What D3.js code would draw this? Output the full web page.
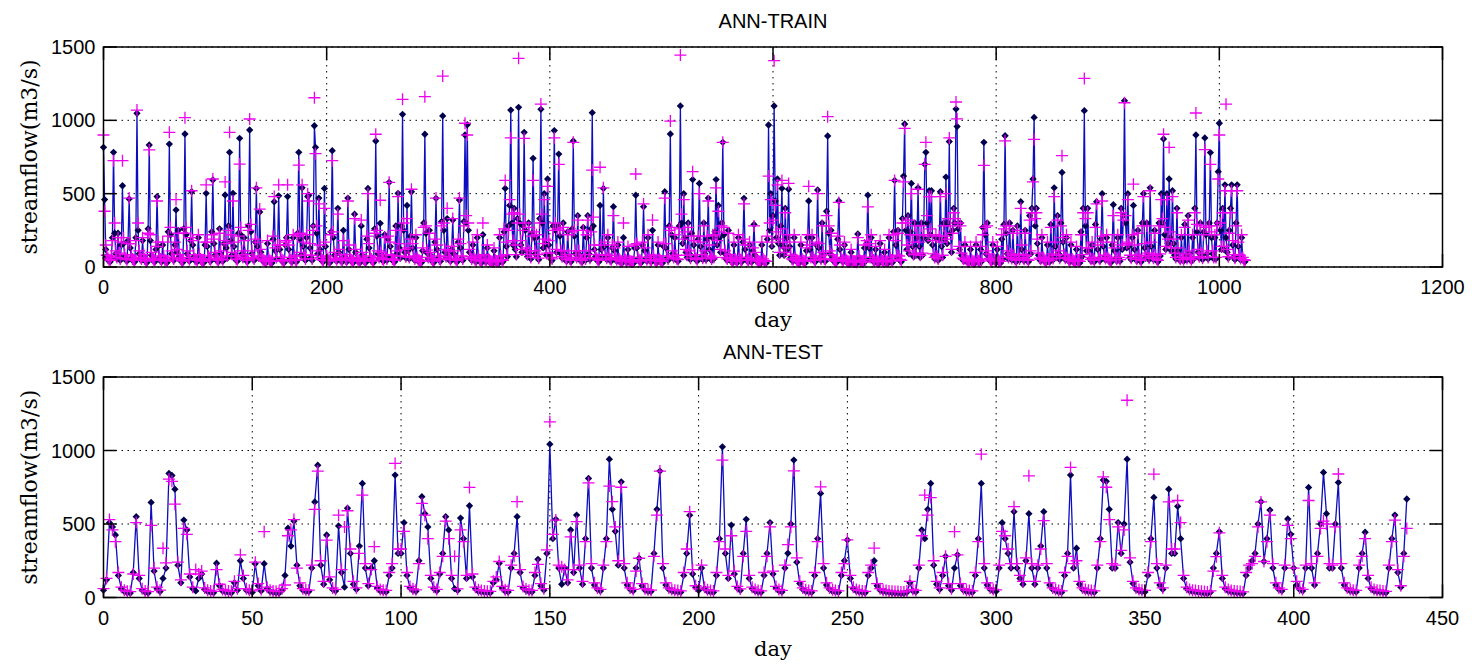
<!DOCTYPE html>
<html>
<head>
<meta charset="utf-8">
<script src="https://cdn.jsdelivr.net/npm/d3@7"></script>
<style>
  html, body { margin: 0; padding: 0; background: #fff; }
  svg { display: block; }
</style>
</head>
<body>
<div id="chart"></div>
<script>
const TRAIN_OBS = [
  816, 460, 120, 70, 50, 40, 35, 60, 200, 782, 230, 90, 55, 230, 80, 45, 150, 554, 160, 70,
  50, 40, 180, 464, 130, 60, 45, 40, 35, 200, 1048, 250, 90, 55, 45, 180, 70, 45, 35, 30,
  260, 832, 180, 80, 50, 40, 35, 120, 480, 140, 60, 45, 35, 150, 60, 40, 35, 30, 240, 838,
  220, 90, 55, 45, 150, 389, 100, 250, 70, 45, 35, 30, 260, 907, 220, 90, 55, 40, 180, 513,
  150, 70, 45, 40, 35, 200, 70, 45, 35, 30, 30, 150, 502, 140, 60, 45, 40, 240, 593, 160,
  80, 50, 40, 35, 260, 90, 50, 40, 160, 491, 130, 60, 280, 782, 180, 80, 502, 140, 60, 45,
  40, 230, 877, 220, 90, 55, 200, 70, 45, 35, 280, 934, 240, 90, 55, 45, 170, 536, 140, 60,
  375, 100, 50, 40, 35, 30, 30, 160, 50, 35, 30, 28, 190, 445, 110, 55, 130, 485, 120, 55,
  40, 35, 30, 150, 200, 480, 120, 55, 40, 35, 200, 60, 40, 35, 230, 782, 190, 80, 540, 140,
  65, 45, 200, 480, 490, 130, 65, 45, 280, 963, 816, 230, 90, 470, 120, 55, 40, 35, 536, 140,
  60, 45, 35, 30, 240, 793, 200, 80, 50, 40, 400, 100, 50, 40, 35, 250, 70, 45, 35, 470,
  120, 55, 40, 35, 30, 360, 100, 50, 40, 35, 30, 280, 80, 45, 35, 30, 190, 536, 130, 60,
  45, 35, 30, 260, 859, 210, 90, 55, 298, 80, 45, 40, 220, 70, 45, 190, 577, 140, 65, 45,
  40, 35, 280, 90, 502, 130, 60, 280, 1041, 250, 100, 60, 420, 110, 55, 210, 513, 130, 60, 45,
  200, 55, 40, 35, 30, 30, 110, 300, 905, 230, 95, 55, 250, 80, 45, 35, 30, 170, 468, 120,
  60, 45, 40, 310, 1030, 250, 100, 60, 330, 90, 50, 40, 120, 320, 90, 50, 40, 35, 170, 457,
  130, 60, 45, 310, 900, 300, 970, 250, 100, 60, 45, 150, 55, 40, 35, 200, 60, 40, 35, 30,
  220, 70, 40, 35, 130, 45, 35, 30, 28, 25, 110, 40, 30, 28, 25, 200, 60, 40, 35, 240,
  536, 140, 70, 280, 420, 1070, 300, 150, 400, 120, 70, 330, 1089, 300, 150, 100, 280, 918, 250, 110,
  70, 300, 90, 55, 230, 741, 200, 90, 200, 70, 50, 330, 1075, 300, 130, 500, 160, 80, 600, 150,
  80, 55, 45, 280, 930, 250, 100, 280, 770, 210, 90, 60, 300, 90, 50, 40, 240, 70, 45, 35,
  260, 859, 210, 90, 55, 350, 90, 50, 40, 35, 270, 70, 45, 200, 350, 90, 50, 260, 1052, 280,
  120, 70, 50, 40, 35, 420, 120, 70, 536, 140, 65, 50, 200, 65, 45, 40, 130, 411, 110, 55,
  40, 150, 45, 35, 30, 28, 200, 55, 40, 30, 120, 35, 30, 28, 25, 25, 130, 490, 130, 55,
  40, 35, 30, 150, 411, 110, 55, 40, 200, 55, 40, 35, 250, 65, 40, 35, 30, 150, 45, 35,
  30, 28, 140, 513, 130, 60, 45, 280, 907, 220, 90, 55, 200, 65, 45, 40, 280, 1098, 300, 160,
  500, 200, 100, 65, 300, 90, 50, 230, 596, 150, 70, 50, 40, 190, 570, 140, 70, 50, 300, 90,
  50, 190, 470, 120, 60, 45, 200, 55, 240, 596, 150, 420, 200, 100, 300, 850, 220, 90, 55, 45,
  250, 70, 45, 35, 30, 150, 45, 35, 30, 200, 55, 40, 35, 170, 468, 120, 55, 40, 35, 150,
  45, 35, 110, 290, 80, 45, 35, 30, 28, 25, 150, 45, 35, 30, 28, 190, 968, 250, 500, 140,
  350, 1098, 450, 200, 600, 160, 80, 280, 536, 140, 80, 400, 110, 200, 530, 140, 65, 45, 40, 200,
  55, 40, 35, 30, 30, 150, 45, 35, 30, 28, 110, 200, 450, 120, 55, 200, 55, 40, 35, 150,
  525, 130, 60, 45, 300, 80, 45, 40, 380, 893, 230, 90, 250, 70, 45, 35, 30, 30, 190, 450,
  120, 55, 40, 35, 150, 45, 35, 30, 28, 25, 100, 32, 28, 25, 24, 22, 225, 60, 35, 28,
  25, 24, 130, 40, 160, 490, 130, 55, 200, 55, 38, 30, 120, 35, 28, 25, 160, 45, 32, 28,
  100, 32, 28, 25, 200, 55, 38, 30, 240, 590, 150, 65, 250, 60, 42, 35, 330, 620, 975, 250,
  120, 350, 90, 240, 570, 140, 70, 300, 80, 200, 540, 140, 65, 300, 80, 200, 700, 782, 300, 180,
  520, 220, 520, 150, 75, 55, 200, 60, 45, 190, 513, 140, 65, 300, 190, 613, 160, 300, 855, 230,
  100, 250, 400, 300, 1077, 958, 260, 120, 300, 80, 50, 42, 150, 45, 35, 30, 28, 120, 38, 30,
  28, 25, 150, 45, 32, 28, 120, 38, 270, 850, 220, 90, 300, 75, 48, 38, 32, 150, 45, 35,
  30, 120, 38, 30, 28, 190, 55, 290, 895, 230, 90, 55, 300, 75, 48, 250, 65, 42, 35, 280,
  70, 45, 445, 120, 55, 42, 250, 65, 42, 35, 350, 90, 400, 600, 1020, 280, 400, 160, 80, 50,
  42, 200, 55, 40, 35, 30, 150, 45, 35, 290, 75, 48, 540, 140, 65, 350, 90, 50, 300, 645,
  170, 70, 50, 200, 55, 40, 35, 150, 45, 35, 30, 28, 120, 38, 30, 28, 240, 70, 400, 1066,
  280, 110, 400, 110, 55, 42, 150, 45, 35, 290, 445, 120, 55, 42, 190, 500, 140, 65, 48, 200,
  55, 42, 35, 32, 150, 425, 110, 55, 42, 200, 55, 40, 400, 120, 350, 1134, 300, 130, 500, 140,
  65, 50, 200, 420, 120, 55, 42, 250, 65, 42, 35, 300, 500, 130, 60, 300, 80, 50, 540, 140,
  65, 50, 250, 65, 42, 35, 300, 75, 500, 300, 873, 220, 120, 500, 160, 600, 200, 110, 520, 160,
  80, 55, 400, 110, 55, 42, 200, 55, 40, 290, 75, 48, 350, 90, 50, 40, 200, 55, 400, 900,
  240, 100, 60, 300, 80, 50, 240, 880, 220, 90, 55, 300, 780, 200, 90, 55, 200, 55, 300, 650,
  980, 250, 120, 400, 120, 560, 200, 100, 60, 250, 400, 560, 150, 70, 50, 300, 560, 140, 65, 48,
  200, 55, 40, 35
];

const TRAIN_PRED = [
  900, 380, 150, 80, 60, 50, 45, 75, 180, 725, 300, 110, 65, 200, 95, 55, 170, 725, 200, 85,
  60, 50, 160, 470, 160, 75, 55, 50, 45, 180, 1070, 300, 110, 65, 55, 200, 85, 55, 45, 40,
  230, 798, 220, 100, 60, 50, 45, 140, 450, 170, 75, 55, 45, 170, 75, 50, 45, 40, 210, 918,
  270, 110, 65, 55, 170, 460, 120, 230, 85, 55, 45, 40, 230, 1018, 270, 110, 65, 50, 200, 520,
  180, 85, 55, 50, 45, 220, 85, 55, 45, 40, 40, 170, 560, 170, 75, 55, 50, 220, 600, 190,
  100, 60, 50, 45, 230, 110, 60, 50, 180, 580, 160, 75, 250, 918, 220, 100, 450, 170, 75, 55,
  50, 210, 702, 270, 110, 65, 180, 85, 55, 45, 250, 1009, 290, 110, 65, 55, 190, 540, 170, 75,
  395, 120, 60, 50, 45, 40, 40, 180, 60, 45, 40, 38, 210, 480, 130, 65, 150, 560, 150, 65,
  50, 45, 40, 170, 180, 560, 150, 65, 50, 45, 220, 75, 50, 45, 210, 695, 230, 100, 560, 170,
  80, 55, 220, 500, 450, 160, 80, 55, 250, 1154, 773, 280, 110, 430, 150, 65, 50, 45, 400, 170,
  75, 55, 45, 40, 220, 725, 240, 100, 60, 50, 360, 120, 60, 50, 45, 180, 85, 55, 45, 450,
  150, 65, 50, 45, 40, 330, 120, 60, 50, 45, 40, 320, 100, 55, 45, 40, 210, 500, 160, 75,
  55, 45, 40, 230, 905, 250, 110, 65, 455, 100, 55, 50, 200, 85, 55, 210, 577, 170, 80, 55,
  50, 45, 250, 110, 480, 160, 75, 250, 1143, 300, 120, 70, 330, 130, 65, 190, 530, 160, 75, 55,
  220, 65, 50, 45, 40, 40, 130, 270, 1161, 280, 115, 65, 230, 100, 55, 45, 40, 190, 470, 150,
  75, 55, 50, 280, 1302, 300, 120, 70, 400, 110, 60, 50, 140, 330, 110, 60, 50, 45, 190, 470,
  160, 75, 55, 280, 980, 350, 900, 300, 120, 70, 55, 170, 65, 50, 45, 220, 75, 50, 45, 40,
  300, 85, 50, 45, 150, 55, 45, 40, 38, 35, 130, 50, 40, 38, 35, 220, 75, 50, 45, 260,
  590, 170, 85, 250, 460, 880, 360, 180, 370, 150, 85, 300, 1423, 360, 180, 120, 250, 877, 300, 130,
  85, 270, 110, 65, 210, 590, 240, 110, 220, 85, 60, 300, 1111, 360, 160, 460, 190, 95, 550, 180,
  95, 65, 55, 250, 880, 300, 120, 260, 700, 250, 110, 70, 270, 110, 60, 50, 220, 85, 55, 45,
  240, 850, 250, 110, 65, 320, 110, 60, 50, 45, 250, 85, 55, 220, 320, 110, 60, 240, 661, 340,
  150, 85, 60, 50, 45, 680, 150, 85, 540, 170, 80, 60, 220, 80, 55, 50, 150, 350, 130, 65,
  50, 170, 55, 45, 40, 38, 300, 65, 50, 40, 140, 45, 40, 38, 35, 35, 150, 634, 160, 65,
  50, 45, 40, 170, 430, 130, 65, 50, 220, 65, 50, 45, 320, 80, 50, 45, 40, 170, 55, 45,
  40, 38, 160, 470, 160, 75, 55, 250, 995, 270, 110, 65, 220, 80, 55, 50, 260, 1445, 360, 190,
  460, 240, 120, 80, 270, 110, 60, 210, 650, 180, 85, 60, 50, 210, 500, 170, 85, 60, 280, 110,
  60, 210, 450, 150, 75, 55, 220, 65, 220, 540, 180, 380, 240, 120, 280, 850, 270, 110, 65, 55,
  230, 85, 55, 45, 40, 170, 55, 45, 40, 220, 65, 50, 45, 190, 430, 150, 65, 50, 45, 170,
  55, 45, 130, 280, 100, 55, 45, 40, 38, 35, 170, 55, 45, 40, 38, 210, 620, 300, 460, 170,
  320, 1407, 420, 240, 560, 190, 100, 260, 590, 170, 100, 370, 130, 220, 570, 170, 80, 55, 50, 220,
  65, 50, 45, 40, 40, 170, 55, 45, 40, 38, 130, 220, 550, 150, 65, 220, 65, 50, 45, 170,
  500, 160, 75, 55, 280, 100, 55, 50, 350, 1025, 280, 110, 230, 85, 55, 45, 40, 40, 210, 440,
  150, 65, 50, 45, 170, 55, 45, 40, 38, 35, 120, 42, 38, 35, 34, 32, 200, 75, 45, 38,
  35, 34, 150, 50, 180, 410, 160, 65, 220, 65, 48, 40, 140, 45, 38, 35, 180, 55, 42, 38,
  120, 42, 38, 35, 220, 65, 48, 40, 220, 590, 180, 80, 230, 75, 52, 45, 300, 580, 945, 300,
  150, 320, 110, 220, 500, 170, 85, 280, 95, 220, 530, 170, 80, 280, 95, 220, 700, 850, 350, 210,
  480, 260, 480, 180, 90, 65, 220, 75, 55, 210, 480, 170, 80, 280, 210, 500, 190, 330, 880, 280,
  120, 230, 370, 330, 1125, 1010, 300, 140, 280, 95, 60, 52, 170, 55, 45, 40, 38, 140, 48, 40,
  38, 35, 170, 55, 42, 38, 140, 48, 220, 693, 270, 110, 280, 90, 58, 48, 42, 170, 55, 45,
  40, 140, 48, 40, 38, 220, 65, 260, 860, 280, 110, 65, 280, 90, 58, 230, 80, 52, 45, 250,
  85, 55, 400, 150, 65, 52, 230, 80, 52, 45, 320, 110, 370, 580, 870, 330, 370, 190, 95, 60,
  52, 220, 65, 50, 45, 40, 170, 55, 45, 270, 90, 58, 480, 170, 80, 320, 110, 60, 280, 759,
  200, 85, 60, 220, 65, 50, 45, 170, 55, 45, 40, 38, 140, 48, 40, 38, 220, 85, 370, 1286,
  330, 130, 370, 130, 65, 52, 170, 55, 45, 270, 430, 150, 65, 52, 210, 450, 170, 80, 58, 220,
  65, 52, 45, 42, 170, 350, 130, 65, 52, 220, 65, 50, 370, 150, 320, 1120, 350, 160, 460, 170,
  80, 60, 220, 565, 150, 65, 52, 230, 80, 52, 45, 280, 480, 160, 75, 280, 95, 60, 520, 170,
  80, 60, 230, 80, 52, 45, 280, 90, 460, 330, 905, 270, 140, 460, 190, 815, 240, 130, 480, 190,
  95, 65, 370, 130, 65, 52, 220, 65, 50, 270, 90, 58, 320, 110, 60, 50, 220, 65, 370, 1050,
  290, 120, 70, 280, 95, 60, 220, 800, 270, 110, 65, 280, 700, 240, 110, 65, 220, 65, 280, 600,
  900, 300, 140, 370, 140, 520, 1110, 120, 70, 230, 370, 520, 180, 85, 60, 280, 520, 170, 80, 58,
  220, 65, 50, 45
];

const TEST_OBS = [
  50, 120, 509, 480, 425, 150, 60, 40, 32, 30, 170, 550, 130, 50, 35, 30, 647, 180, 60, 40,
  130, 200, 844, 830, 737, 220, 100, 527, 460, 140, 60, 45, 130, 160, 55, 40, 35, 32, 233, 80,
  45, 38, 35, 32, 100, 50, 250, 130, 50, 40, 35, 230, 80, 45, 230, 60, 40, 35, 32, 30,
  50, 150, 471, 350, 520, 220, 80, 50, 42, 40, 200, 650, 900, 220, 90, 425, 120, 55, 45, 487,
  170, 70, 607, 300, 90, 55, 350, 776, 200, 80, 200, 250, 65, 45, 40, 38, 150, 200, 833, 300,
  300, 509, 150, 65, 48, 42, 250, 686, 570, 480, 130, 60, 45, 160, 300, 550, 460, 130, 60, 48,
  540, 400, 130, 624, 140, 60, 42, 38, 35, 33, 32, 100, 120, 233, 65, 42, 38, 200, 300, 550,
  170, 65, 48, 40, 38, 150, 260, 80, 50, 300, 1043, 400, 532, 200, 90, 200, 100, 460, 170, 561,
  200, 90, 400, 810, 200, 85, 55, 45, 200, 400, 941, 600, 450, 220, 787, 200, 85, 55, 45, 200,
  267, 80, 50, 42, 40, 300, 600, 860, 200, 85, 55, 45, 40, 38, 35, 150, 300, 560, 160, 70,
  48, 200, 60, 42, 38, 35, 150, 400, 1025, 300, 130, 493, 160, 65, 48, 300, 532, 130, 60, 45,
  38, 35, 150, 300, 510, 160, 65, 45, 38, 200, 301, 500, 935, 240, 95, 55, 42, 38, 35, 150,
  400, 708, 200, 85, 55, 42, 38, 35, 150, 250, 392, 130, 60, 45, 38, 35, 32, 150, 200, 250,
  80, 50, 40, 38, 35, 32, 30, 30, 28, 28, 35, 100, 45, 38, 200, 460, 400, 600, 776, 220,
  90, 55, 150, 280, 80, 50, 200, 290, 80, 50, 40, 38, 35, 150, 400, 776, 200, 85, 55, 45,
  42, 200, 509, 400, 300, 200, 584, 200, 130, 90, 250, 570, 200, 90, 200, 350, 584, 200, 85, 55,
  45, 38, 35, 150, 300, 833, 200, 335, 90, 55, 45, 40, 38, 35, 200, 400, 799, 790, 600, 200,
  200, 510, 300, 500, 941, 240, 95, 55, 45, 40, 38, 150, 400, 681, 200, 85, 55, 200, 737, 300,
  300, 620, 400, 130, 60, 45, 40, 38, 35, 32, 30, 28, 35, 200, 300, 448, 130, 60, 45, 38,
  35, 32, 30, 28, 150, 200, 250, 300, 500, 652, 245, 400, 595, 200, 85, 55, 45, 200, 534, 430,
  200, 85, 55, 45, 200, 749, 200, 85, 300, 500, 851, 570, 200, 200, 500, 783, 200, 85, 55, 45,
  40, 38, 200, 300, 444, 130, 60, 45, 40, 38, 35, 32, 200, 400, 561, 170, 70, 300, 670
];

const TEST_PRED = [
  60, 130, 530, 460, 380, 170, 70, 50, 42, 40, 160, 510, 150, 60, 45, 40, 490, 200, 70, 50,
  335, 235, 805, 790, 635, 240, 120, 470, 430, 160, 70, 190, 160, 180, 65, 50, 45, 42, 190, 90,
  55, 48, 45, 42, 110, 60, 290, 150, 60, 50, 45, 240, 95, 55, 448, 70, 50, 45, 42, 40,
  60, 85, 420, 460, 530, 200, 100, 60, 52, 50, 220, 600, 860, 250, 110, 390, 140, 65, 55, 560,
  190, 480, 590, 330, 110, 65, 300, 697, 230, 95, 190, 346, 75, 55, 50, 48, 170, 230, 912, 330,
  330, 450, 170, 75, 58, 52, 230, 640, 560, 400, 150, 70, 55, 170, 280, 520, 400, 150, 280, 58,
  460, 380, 150, 749, 160, 70, 52, 48, 45, 43, 42, 110, 140, 245, 75, 52, 48, 220, 280, 652,
  190, 75, 58, 50, 48, 170, 225, 95, 60, 324, 1195, 430, 527, 220, 210, 190, 120, 413, 190, 516,
  220, 110, 380, 780, 230, 100, 65, 55, 220, 380, 758, 652, 480, 250, 750, 230, 100, 65, 55, 180,
  267, 95, 60, 52, 50, 280, 560, 860, 230, 100, 65, 55, 50, 48, 45, 170, 330, 584, 190, 80,
  58, 220, 70, 52, 48, 45, 170, 380, 935, 330, 150, 420, 180, 75, 58, 280, 450, 150, 70, 55,
  48, 45, 170, 280, 480, 180, 75, 55, 48, 220, 360, 480, 862, 270, 110, 65, 52, 48, 45, 170,
  380, 753, 230, 100, 65, 52, 48, 45, 170, 230, 392, 150, 70, 55, 48, 45, 42, 170, 220, 336,
  95, 60, 50, 48, 45, 42, 40, 40, 38, 38, 45, 110, 55, 48, 220, 420, 697, 560, 680, 250,
  110, 65, 170, 280, 95, 60, 448, 290, 95, 60, 50, 48, 45, 170, 380, 975, 230, 100, 65, 55,
  52, 220, 450, 420, 330, 230, 618, 230, 150, 110, 270, 828, 230, 110, 220, 330, 523, 230, 100, 65,
  55, 48, 45, 170, 280, 885, 230, 250, 110, 65, 55, 50, 48, 45, 220, 380, 820, 750, 530, 230,
  220, 480, 320, 460, 1342, 270, 110, 65, 55, 50, 48, 170, 380, 839, 230, 100, 65, 220, 650, 330,
  330, 660, 510, 150, 70, 55, 50, 48, 45, 42, 40, 38, 45, 180, 278, 440, 150, 70, 55, 48,
  45, 42, 40, 38, 170, 220, 230, 280, 480, 650, 245, 380, 560, 230, 100, 65, 55, 220, 490, 400,
  200, 110, 65, 55, 220, 660, 230, 100, 280, 470, 520, 500, 230, 220, 480, 840, 230, 100, 65, 55,
  50, 48, 220, 280, 400, 150, 70, 55, 50, 48, 45, 42, 220, 380, 527, 190, 80, 280, 470
];

const Y_TICKS = [0, 500, 1000, 1500];
const TRAIN_X_TICKS = [0, 200, 400, 600, 800, 1000, 1200];
const TEST_X_TICKS = [0, 50, 100, 150, 200, 250, 300, 350, 400, 450];

const W = 1472, H = 664;
const OBS_LINE  = "#0c0cc0";
const OBS_MARK  = "#00004e";
const PRED_MARK = "#f000f0";
const TICK_FONT  = "'Liberation Sans', Arial, sans-serif";
const LABEL_FONT = "'DejaVu Serif', serif";
const TICK_LEN = 13;

const PANELS = [
  { title: "ANN-TRAIN", obs: TRAIN_OBS, pred: TRAIN_PRED, xMax: 1200, xTicks: TRAIN_X_TICKS,
    left: 103.5, right: 1442.5, top: 47, bottom: 267, titleY: 28, xlabelY: 327 },
  { title: "ANN-TEST", obs: TEST_OBS, pred: TEST_PRED, xMax: 450, xTicks: TEST_X_TICKS,
    left: 103.5, right: 1442.5, top: 377, bottom: 597.5, titleY: 359, xlabelY: 656 }
];

const svg = d3.select("#chart").append("svg")
  .attr("width", W)
  .attr("height", H)
  .style("background", "#fff");

const diamond = d3.symbol().type(d3.symbolDiamond2).size(34)();
const plus = "M-6,0H6M0,-6V6";

PANELS.forEach(drawPanel);

function drawPanel(p) {
  const x = d3.scaleLinear().domain([0, p.xMax]).range([p.left, p.right]);
  const y = d3.scaleLinear().domain([0, 1500]).range([p.bottom, p.top]);
  const g = svg.append("g");

  // dotted grid
  p.xTicks.forEach(t => {
    g.append("line")
      .attr("x1", x(t)).attr("x2", x(t))
      .attr("y1", p.top).attr("y2", p.bottom)
      .attr("stroke", "#000").attr("stroke-width", 1)
      .attr("stroke-dasharray", "1.5,4.5");
  });
  Y_TICKS.forEach(t => {
    g.append("line")
      .attr("x1", p.left).attr("x2", p.right)
      .attr("y1", y(t)).attr("y2", y(t))
      .attr("stroke", "#000").attr("stroke-width", 1)
      .attr("stroke-dasharray", "1.5,4.5");
  });

  // observed: blue line with dark diamond markers
  const line = d3.line()
    .x((d, i) => x(i))
    .y(d => y(d));

  g.append("path")
    .datum(p.obs)
    .attr("d", line)
    .attr("fill", "none")
    .attr("stroke", OBS_LINE)
    .attr("stroke-width", 1.3);

  g.append("g")
    .selectAll("path")
    .data(p.obs)
    .join("path")
    .attr("transform", (d, i) => `translate(${x(i)},${y(d)})`)
    .attr("d", diamond)
    .attr("fill", OBS_MARK);

  // simulated: magenta plus markers
  g.append("g")
    .selectAll("path")
    .data(p.pred)
    .join("path")
    .attr("transform", (d, i) => `translate(${x(i)},${y(d)})`)
    .attr("d", plus)
    .attr("fill", "none")
    .attr("stroke", PRED_MARK)
    .attr("stroke-width", 1.3);

  // box
  g.append("rect")
    .attr("x", p.left).attr("y", p.top)
    .attr("width", p.right - p.left).attr("height", p.bottom - p.top)
    .attr("fill", "none").attr("stroke", "#000").attr("stroke-width", 1.5);

  // inward ticks on all four sides
  p.xTicks.forEach(t => {
    g.append("line").attr("x1", x(t)).attr("x2", x(t))
      .attr("y1", p.bottom).attr("y2", p.bottom - TICK_LEN)
      .attr("stroke", "#000").attr("stroke-width", 1.5);
    g.append("line").attr("x1", x(t)).attr("x2", x(t))
      .attr("y1", p.top).attr("y2", p.top + TICK_LEN)
      .attr("stroke", "#000").attr("stroke-width", 1.5);
    g.append("text")
      .attr("x", x(t)).attr("y", p.bottom + 27)
      .attr("text-anchor", "middle")
      .attr("font-family", TICK_FONT).attr("font-size", "20px")
      .attr("fill", "#000")
      .text(t);
  });
  Y_TICKS.forEach(t => {
    g.append("line").attr("x1", p.left).attr("x2", p.left + TICK_LEN)
      .attr("y1", y(t)).attr("y2", y(t))
      .attr("stroke", "#000").attr("stroke-width", 1.5);
    g.append("line").attr("x1", p.right).attr("x2", p.right - TICK_LEN)
      .attr("y1", y(t)).attr("y2", y(t))
      .attr("stroke", "#000").attr("stroke-width", 1.5);
    g.append("text")
      .attr("x", p.left - 8).attr("y", y(t) + 7)
      .attr("text-anchor", "end")
      .attr("font-family", TICK_FONT).attr("font-size", "20px")
      .attr("fill", "#000")
      .text(t);
  });

  // titles and labels
  const cx = (p.left + p.right) / 2;
  g.append("text")
    .attr("x", cx).attr("y", p.titleY)
    .attr("text-anchor", "middle")
    .attr("font-family", TICK_FONT).attr("font-size", "20px")
    .text(p.title);

  g.append("text")
    .attr("x", cx).attr("y", p.xlabelY)
    .attr("text-anchor", "middle")
    .attr("font-family", LABEL_FONT).attr("font-size", "21px")
    .text("day");

  g.append("text")
    .attr("transform", `translate(37,${(p.top + p.bottom) / 2}) rotate(-90)`)
    .attr("text-anchor", "middle")
    .attr("font-family", LABEL_FONT).attr("font-size", "22px")
    .text("streamflow(m3/s)");
}
</script>
</body>
</html>
